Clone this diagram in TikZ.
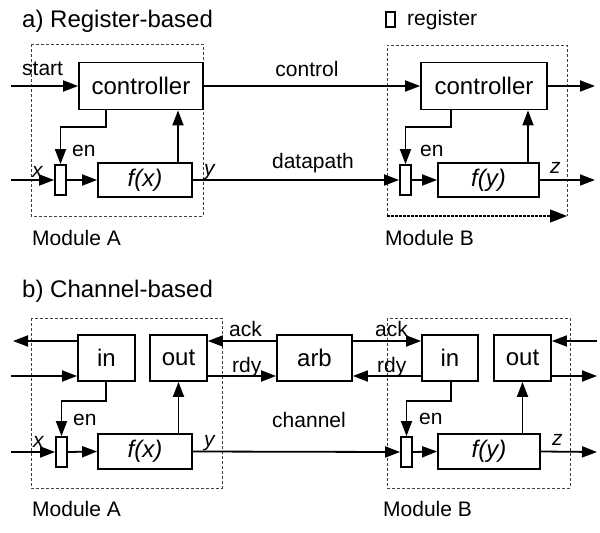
\documentclass[tikz,border=0pt]{standalone}
\usepackage{fontspec}
\setmainfont{Liberation Sans}
\usetikzlibrary{arrows.meta}
\begin{document}
\begin{tikzpicture}[x=1pt,y=-1pt,
  box/.style={draw,line width=1.8pt,inner sep=0pt,font=\fontsize{24}{28}\selectfont},
  regbox/.style={draw,line width=1.8pt,inner sep=0pt,minimum width=11pt,minimum height=30pt},
  arr/.style={line width=1.8pt,-{Triangle[length=15pt,width=11pt]}},
  modbox/.style={line width=0.8pt,dash pattern=on 3pt off 2pt,black!75},
  lbl/.style={inner sep=0pt,font=\fontsize{21}{25}\selectfont},
  ilbl/.style={inner sep=0pt,font=\fontsize{21}{25}\selectfont\itshape},
  ttl/.style={inner sep=0pt,font=\fontsize{24}{28}\selectfont},
]
\useasboundingbox (0,0) rectangle (600,533);

% ---------------- a) Register-based ----------------
\node[ttl,anchor=base west] (titleA) at (22,27) {a) Register-based};
\node[draw,line width=1.2pt,inner sep=0pt,minimum width=9pt,minimum height=15pt] (legreg) at (390.5,19.5) {};
\node[lbl,anchor=base west] (legtxt) at (407,25) {register};

\draw[modbox] (31,44) rectangle (203,216);
\coordinate (mBsw) at (387,216);
\coordinate (mBse) at (567,216);
\draw[modbox] (mBsw) -- (387,45) -- (567,45) -- (mBse);
\draw[black,line width=1.2pt,dash pattern=on 3pt off 1pt,-{Triangle[length=17pt,width=13pt]}] (mBsw) -- (mBse);

\node[box,minimum width=124pt,minimum height=47pt] (ctrlA) at (141,86) {controller};
\node[regbox] (regA) at (60.5,180) {};
\node[box,minimum width=94pt,minimum height=34pt] (fxA) at (145,180) {\itshape f(x)};

\node[box,minimum width=126pt,minimum height=47pt] (ctrlB) at (484,86) {controller};
\node[regbox] (regB) at (405.5,180) {};
\node[box,minimum width=101pt,minimum height=34pt] (fyB) at (488.5,180) {\itshape f(y)};

\coordinate (startin) at (11,86);
\coordinate (xin) at (11,180);
\coordinate (ctrlout) at (595,86);
\coordinate (zout) at (595,180);
\coordinate (enA) at (106,127);
\coordinate (enB) at (451,127);
\coordinate (upA) at (178,0);
\coordinate (upB) at (528,0);

\draw[arr] (startin) -- (ctrlA.west);
\draw[arr] (xin) -- (regA.west);
\draw[arr] (regA.east) -- (fxA.west);
\draw[arr] (ctrlA.south -| enA) -- (enA) -| (regA.north);
\draw[arr] (fxA.north -| upA) -- (ctrlA.south -| upA);
\draw[arr] (ctrlA.east) -- (ctrlB.west);
\draw[arr] (fxA.east) -- (regB.west);
\draw[arr] (regB.east) -- (fyB.west);
\draw[arr] (ctrlB.south -| enB) -- (enB) -| (regB.north);
\draw[arr] (fyB.north -| upB) -- (ctrlB.south -| upB);
\draw[arr] (ctrlB.east) -- (ctrlout);
\draw[arr] (fyB.east) -- (zout);

\node[lbl,anchor=base west] (lstart) at (22,75) {start};
\node[lbl,anchor=base] (lcontrol) at (307,76) {control};
\node[lbl,anchor=base] (ldatapath) at (313,168) {datapath};
\node[lbl,anchor=base west] (lenA) at (72,156) {en};
\node[lbl,anchor=base west] (lenB) at (420,156) {en};
\node[ilbl,anchor=base west] (lxA) at (32,177) {x};
\node[ilbl,anchor=base west] (lyA) at (204,175) {y};
\node[ilbl,anchor=base west] (lzB) at (550,173) {z};
\node[lbl,anchor=base west] (lmodA) at (32,245) {Module A};
\node[lbl,anchor=base west] (lmodB) at (385,245) {Module B};

% ---------------- b) Channel-based ----------------
\node[ttl,anchor=base west] (titleB) at (22,297) {b) Channel-based};

\draw[modbox] (31,318) rectangle (222,488);
\draw[modbox] (387,318) rectangle (570,488);

\node[box,minimum width=57pt,minimum height=46pt] (inA) at (106.5,358) {in};
\node[box,minimum width=57pt,minimum height=46pt] (outA) at (178.5,358) {out};
\node[box,minimum width=75pt,minimum height=46pt] (arb) at (314.5,358) {arb};
\node[box,minimum width=56pt,minimum height=46pt] (inB) at (450,358) {in};
\node[box,minimum width=57pt,minimum height=46pt] (outB) at (522.5,358) {out};

\node[regbox] (regA2) at (61.5,452) {};
\node[box,minimum width=94pt,minimum height=35pt] (fxA2) at (145,451.5) {\itshape f(x)};
\node[regbox] (regB2) at (406.5,452) {};
\node[box,minimum width=102pt,minimum height=35pt] (fyB2) at (489,451.5) {\itshape f(y)};

\coordinate (ackY) at (0,341);
\coordinate (rdyY) at (0,376);
\coordinate (ackout) at (13,341);
\coordinate (reqin) at (11,376);
\coordinate (ackin) at (597,341);
\coordinate (rdyout) at (597,376);
\coordinate (xin2) at (11,452);
\coordinate (zout2) at (597,452);
\coordinate (enA2) at (106,401);
\coordinate (enB2) at (451,401);

\draw[arr] (inA.west |- ackY) -- (ackout);
\draw[arr] (reqin) -- (inA.west |- rdyY);
\draw[arr] (arb.west |- ackY) -- (outA.east |- ackY);
\draw[arr] (outA.east |- rdyY) -- (arb.west |- rdyY);
\draw[arr] (arb.east |- ackY) -- (inB.west |- ackY);
\draw[arr] (inB.west |- rdyY) -- (arb.east |- rdyY);
\draw[arr] (ackin) -- (outB.east |- ackY);
\draw[arr] (outB.east |- rdyY) -- (rdyout);

\draw[arr] (inA.south -| enA2) -- (enA2) -| (regA2.north);
\draw[arr] (inB.south -| enB2) -- (enB2) -| (regB2.north);
\draw[arr] (xin2) -- (regA2.west);
\draw[arr] (regA2.east) -- (fxA2.west);
\draw[arr] (fxA2.north -| outA.south) -- (outA.south);
\draw[arr] (fxA2.east) -- (regB2.west);
\draw[arr] (regB2.east) -- (fyB2.west);
\draw[arr] (fyB2.north -| outB.south) -- (outB.south);
\draw[arr] (fyB2.east) -- (zout2);

\node[lbl,anchor=base west] (lackA) at (229,336) {ack};
\node[lbl,anchor=base west] (lrdyA) at (232,372) {rdy};
\node[lbl,anchor=base west] (lackB) at (375,336) {ack};
\node[lbl,anchor=base west] (lrdyB) at (377,372) {rdy};
\node[lbl,anchor=base west] (lenA2) at (73,425) {en};
\node[lbl,anchor=base west] (lenB2) at (419,424) {en};
\node[ilbl,anchor=base west] (lxA2) at (33,447) {x};
\node[ilbl,anchor=base west] (lyA2) at (204,446) {y};
\node[ilbl,anchor=base west] (lzB2) at (552,445) {z};
\node[lbl,anchor=base] (lchannel) at (309,427) {channel};
\node[lbl,anchor=base west] (lmodA2) at (32,516) {Module A};
\node[lbl,anchor=base west] (lmodB2) at (383,516) {Module B};
\end{tikzpicture}
\end{document}
